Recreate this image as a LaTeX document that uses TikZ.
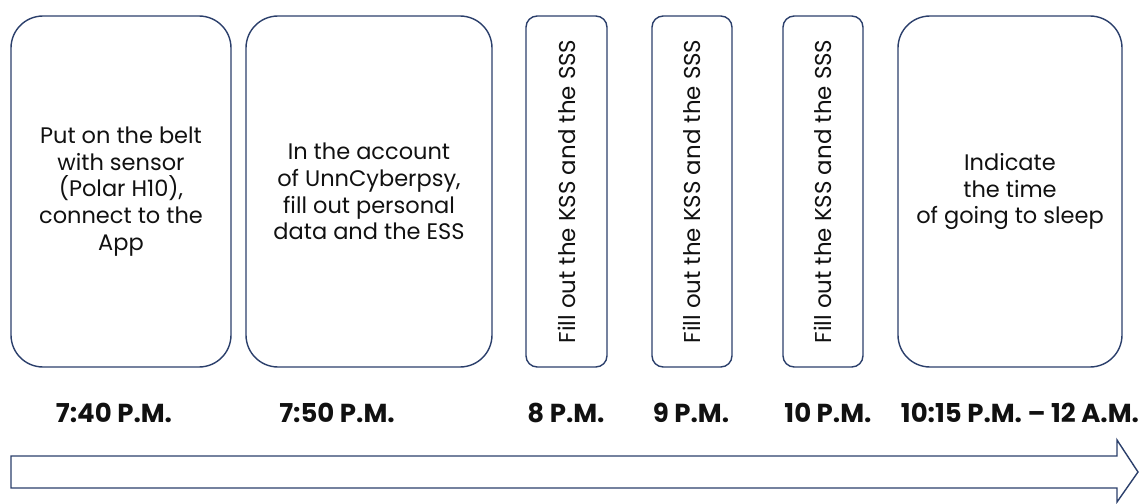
\documentclass[tikz,border=0pt]{standalone}
\usepackage{fontspec}
\setmainfont{Poppins}
\usepackage{tikz}
\usepackage{xcolor}
\definecolor{framec}{HTML}{2B3F6B}
\definecolor{textc}{HTML}{111111}
\tikzset{
  stepbox/.style={draw=framec, line width=1pt, rounded corners=0.8cm, align=center, text=textc, font=\fontsize{16}{19}\selectfont, inner sep=0pt},
  slimbox/.style={draw=framec, line width=1pt, rounded corners=0.28cm, text=textc, font=\fontsize{16.3}{19}\selectfont, rotate=90, inner sep=0pt},
  timelabel/.style={anchor=base, text=textc, font=\fontsize{18.5}{22}\selectfont\bfseries},
  timeline/.style={draw=framec, line width=1pt, fill=white, line join=miter},
}

\begin{document}
\begin{tikzpicture}
\useasboundingbox (0,0) rectangle (28.475,12.575);
\node[stepbox, minimum width=5.5cm, minimum height=8.775cm] (belt) at (3.025,7.7875) {Put on the belt\\with sensor\\(Polar H10),\\connect to the\\App};
\node[stepbox, minimum width=6.15cm, minimum height=8.775cm] (account) at (9.225,7.7875) {In the account\\of UnnCyberpsy,\\fill out personal\\data and the ESS};
\node[slimbox, minimum width=8.775cm, minimum height=2.025cm] (kssa) at (14.1625,7.7875) {Fill out the KSS and the SSS};
\node[slimbox, minimum width=8.775cm, minimum height=2.0cm] (kssb) at (17.3,7.7875) {Fill out the KSS and the SSS};
\node[slimbox, minimum width=8.775cm, minimum height=2.0cm] (kssc) at (20.575,7.7875) {Fill out the KSS and the SSS};
\node[stepbox, minimum width=5.6cm, minimum height=8.775cm] (sleep) at (25.25,7.7875) {Indicate\\the time\\of going to sleep};
\node[timelabel] (tbelt) at (2.85,2.025) {7:40 P.M.};
\node[timelabel] (taccount) at (8.425,2.025) {7:50 P.M.};
\node[timelabel] (tkssa) at (14.15,2.025) {8 P.M.};
\node[timelabel] (tkssb) at (17.275,2.025) {9 P.M.};
\node[timelabel] (tkssc) at (20.7,2.025) {10 P.M.};
\node[timelabel] (tsleep) at (25.5,2.025) {10:15 P.M. -- 12 A.M.};
\draw[timeline] (0.275,1.175) -- (27.925,1.175) -- (27.925,1.575) -- (28.45,0.775) -- (27.925,0.025) -- (27.925,0.375) -- (0.275,0.375) -- cycle;
\end{tikzpicture}
\end{document}
